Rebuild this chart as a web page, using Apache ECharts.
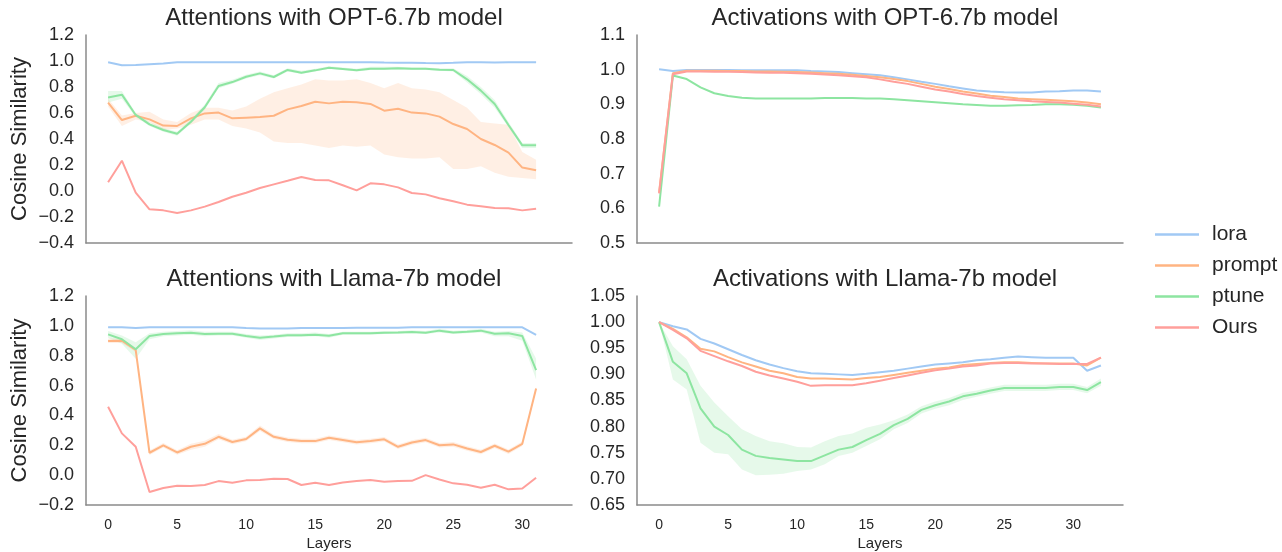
<!DOCTYPE html>
<html>
<head>
<meta charset="utf-8">
<script src="https://cdn.jsdelivr.net/npm/echarts@6/dist/echarts.min.js"></script>
<style>
  html, body { margin: 0; padding: 0; background: #fff; }
  #chart { width: 1282px; height: 552px; }
</style>
</head>
<body>
<div id="chart"></div>
<script>
// layer indices
const attnLayers = [0,1,2,3,4,5,6,7,8,9,10,11,12,13,14,15,16,17,18,19,20,21,22,23,24,25,26,27,28,29,30,31];
const actLayers = [0,1,2,3,4,5,6,7,8,9,10,11,12,13,14,15,16,17,18,19,20,21,22,23,24,25,26,27,28,29,30,31,32];
const xTickLabels = [0, 5, 10, 15, 20, 25, 30];

// Attentions with OPT-6.7b model
const attnOptLora = [0.99,0.967,0.97,0.975,0.98,0.99,0.99,0.99,0.99,0.99,0.99,0.99,0.99,0.99,0.99,0.99,0.99,0.99,0.99,0.99,0.988,0.987,0.986,0.984,0.983,0.986,0.99,0.99,0.988,0.99,0.99,0.99];
const attnOptPrompt = [0.679,0.546,0.579,0.551,0.503,0.5,0.559,0.597,0.603,0.559,0.564,0.569,0.579,0.628,0.654,0.687,0.674,0.687,0.682,0.67,0.618,0.633,0.603,0.597,0.572,0.515,0.477,0.4,0.354,0.295,0.18,0.159];
const attnOptPromptLo = [0.65,0.50,0.55,0.53,0.47,0.48,0.51,0.55,0.55,0.50,0.48,0.45,0.38,0.37,0.37,0.35,0.33,0.35,0.34,0.35,0.28,0.26,0.25,0.25,0.26,0.17,0.17,0.19,0.14,0.11,0.10,0.09];
const attnOptPromptHi = [0.71,0.58,0.60,0.61,0.55,0.53,0.60,0.64,0.64,0.62,0.65,0.71,0.76,0.79,0.82,0.86,0.85,0.85,0.86,0.83,0.79,0.83,0.79,0.78,0.76,0.70,0.64,0.53,0.52,0.51,0.30,0.24];
const attnOptPtune = [0.72,0.741,0.585,0.513,0.469,0.441,0.533,0.644,0.808,0.838,0.879,0.905,0.877,0.931,0.91,0.928,0.948,0.938,0.928,0.941,0.941,0.944,0.941,0.941,0.933,0.931,0.859,0.772,0.669,0.508,0.351,0.351];
const attnOptPtuneLo = [0.68,0.71,0.57,0.50,0.455,0.425,0.52,0.625,0.79,0.825,0.865,0.89,0.865,0.92,0.90,0.92,0.94,0.93,0.92,0.93,0.93,0.935,0.93,0.93,0.925,0.92,0.835,0.745,0.64,0.49,0.33,0.33];
const attnOptPtuneHi = [0.77,0.77,0.60,0.53,0.485,0.455,0.55,0.665,0.83,0.855,0.895,0.92,0.89,0.945,0.925,0.94,0.96,0.95,0.94,0.955,0.955,0.955,0.95,0.95,0.945,0.945,0.885,0.80,0.70,0.53,0.37,0.37];
const attnOptOurs = [0.067,0.233,-0.013,-0.141,-0.149,-0.169,-0.149,-0.12,-0.085,-0.044,-0.013,0.023,0.051,0.079,0.108,0.085,0.082,0.044,0.005,0.059,0.051,0.028,-0.015,-0.026,-0.056,-0.079,-0.105,-0.118,-0.131,-0.133,-0.149,-0.136];

// Activations with OPT-6.7b model
const actOptLora = [1.001,0.996,0.999,0.999,0.999,0.999,0.998,0.998,0.998,0.998,0.998,0.996,0.995,0.993,0.99,0.987,0.984,0.978,0.972,0.965,0.959,0.952,0.946,0.94,0.937,0.935,0.934,0.934,0.937,0.938,0.94,0.94,0.937];
const actOptPrompt = [0.645,0.99,0.997,0.997,0.997,0.996,0.996,0.995,0.995,0.994,0.993,0.992,0.99,0.988,0.985,0.982,0.978,0.973,0.967,0.959,0.951,0.944,0.937,0.931,0.925,0.921,0.917,0.915,0.913,0.911,0.909,0.905,0.9];
const actOptPtune = [0.605,0.983,0.973,0.949,0.932,0.924,0.919,0.917,0.917,0.917,0.917,0.917,0.918,0.918,0.918,0.917,0.917,0.915,0.912,0.909,0.906,0.903,0.9,0.898,0.896,0.896,0.897,0.898,0.9,0.9,0.899,0.896,0.891];
const actOptOurs = [0.643,0.987,0.995,0.995,0.994,0.994,0.993,0.992,0.991,0.991,0.99,0.988,0.986,0.984,0.981,0.978,0.972,0.965,0.959,0.951,0.943,0.937,0.93,0.924,0.919,0.915,0.912,0.909,0.907,0.905,0.902,0.899,0.894];

// Attentions with Llama-7b model
const attnLlamaLora = [0.99,0.99,0.985,0.99,0.99,0.99,0.99,0.99,0.99,0.99,0.985,0.983,0.983,0.983,0.985,0.985,0.985,0.985,0.987,0.987,0.987,0.988,0.99,0.99,0.99,0.99,0.99,0.99,0.99,0.99,0.99,0.94];
const attnLlamaPrompt = [0.898,0.9,0.838,0.15,0.2,0.152,0.19,0.21,0.257,0.222,0.242,0.313,0.257,0.237,0.228,0.228,0.25,0.235,0.22,0.228,0.24,0.19,0.219,0.235,0.2,0.206,0.179,0.155,0.197,0.157,0.21,0.581];
const attnLlamaPromptLo = [0.885,0.885,0.825,0.135,0.185,0.137,0.17,0.19,0.24,0.207,0.227,0.295,0.242,0.222,0.213,0.213,0.235,0.22,0.205,0.213,0.225,0.175,0.204,0.22,0.185,0.19,0.164,0.14,0.182,0.142,0.195,0.57];
const attnLlamaPromptHi = [0.915,0.915,0.852,0.165,0.215,0.167,0.21,0.23,0.275,0.237,0.257,0.333,0.272,0.252,0.243,0.243,0.265,0.25,0.235,0.243,0.255,0.205,0.234,0.25,0.215,0.222,0.194,0.17,0.212,0.172,0.225,0.592];
const attnLlamaPtune = [0.943,0.91,0.843,0.932,0.945,0.95,0.954,0.945,0.947,0.947,0.932,0.92,0.928,0.937,0.937,0.94,0.934,0.95,0.95,0.95,0.954,0.956,0.959,0.954,0.968,0.956,0.961,0.968,0.947,0.95,0.932,0.704];
const attnLlamaPtuneLo = [0.92,0.88,0.78,0.91,0.93,0.935,0.94,0.93,0.935,0.935,0.92,0.905,0.915,0.925,0.925,0.93,0.92,0.94,0.94,0.94,0.945,0.945,0.95,0.945,0.955,0.945,0.95,0.955,0.93,0.93,0.90,0.64];
const attnLlamaPtuneHi = [0.965,0.935,0.89,0.95,0.96,0.965,0.97,0.96,0.96,0.96,0.945,0.935,0.94,0.95,0.95,0.955,0.945,0.96,0.96,0.96,0.965,0.965,0.97,0.965,0.98,0.968,0.972,0.98,0.96,0.965,0.955,0.78];
const attnLlamaOurs = [0.458,0.28,0.19,-0.113,-0.086,-0.071,-0.073,-0.066,-0.04,-0.051,-0.035,-0.033,-0.024,-0.026,-0.066,-0.051,-0.066,-0.049,-0.04,-0.033,-0.044,-0.04,-0.038,0.0,-0.029,-0.055,-0.064,-0.084,-0.064,-0.095,-0.089,-0.017];

// Activations with Llama-7b model
const actLlamaLora = [1.0,0.992,0.986,0.968,0.959,0.948,0.937,0.927,0.919,0.912,0.906,0.902,0.901,0.9,0.899,0.901,0.904,0.907,0.911,0.915,0.919,0.921,0.923,0.927,0.929,0.932,0.934,0.933,0.932,0.932,0.932,0.907,0.917];
const actLlamaPrompt = [1.0,0.987,0.971,0.949,0.944,0.933,0.923,0.915,0.907,0.902,0.895,0.892,0.892,0.891,0.89,0.893,0.895,0.899,0.903,0.907,0.911,0.913,0.918,0.92,0.922,0.923,0.923,0.922,0.921,0.921,0.921,0.917,0.932];
const actLlamaPtune = [1.0,0.924,0.902,0.835,0.8,0.784,0.756,0.744,0.74,0.737,0.734,0.734,0.745,0.756,0.761,0.774,0.786,0.803,0.815,0.832,0.841,0.848,0.858,0.863,0.869,0.874,0.874,0.874,0.874,0.876,0.876,0.87,0.885];
const actLlamaPtuneLo = [1.0,0.89,0.871,0.769,0.75,0.747,0.718,0.707,0.708,0.71,0.715,0.718,0.728,0.744,0.75,0.763,0.776,0.795,0.807,0.825,0.834,0.841,0.851,0.857,0.863,0.868,0.868,0.868,0.868,0.87,0.87,0.864,0.878];
const actLlamaPtuneHi = [1.0,0.954,0.929,0.878,0.846,0.82,0.795,0.782,0.772,0.768,0.761,0.76,0.772,0.782,0.787,0.798,0.804,0.812,0.823,0.839,0.848,0.855,0.865,0.869,0.875,0.88,0.88,0.88,0.88,0.882,0.882,0.876,0.892];
const actLlamaOurs = [1.0,0.985,0.969,0.945,0.935,0.925,0.916,0.905,0.898,0.892,0.886,0.878,0.879,0.879,0.879,0.883,0.888,0.893,0.898,0.903,0.908,0.911,0.915,0.917,0.921,0.922,0.922,0.921,0.921,0.92,0.92,0.92,0.932];

const methods = ["lora", "prompt", "ptune", "Ours"];
const colors = { lora: "#a1c9f4", prompt: "#ffb482", ptune: "#8de5a1", Ours: "#ff9f9b" };

const FONT = "'Liberation Sans', Arial, sans-serif";
const TEXT = "#262626";
const AXIS = "#8a8a8a";

const panels = [
  { title: "Attentions with OPT-6.7b model", grid: { left: 86, top: 35, width: 486, height: 208 },
    y: { min: -0.4, max: 1.2, interval: 0.2, digits: 1 }, ylabel: true, xlabels: false, layers: attnLayers,
    lines: { lora: attnOptLora, prompt: attnOptPrompt, ptune: attnOptPtune, Ours: attnOptOurs },
    bands: { prompt: [attnOptPromptLo, attnOptPromptHi], ptune: [attnOptPtuneLo, attnOptPtuneHi] } },
  { title: "Activations with OPT-6.7b model", grid: { left: 637, top: 35, width: 486, height: 208 },
    y: { min: 0.5, max: 1.1, interval: 0.1, digits: 1 }, ylabel: false, xlabels: false, layers: actLayers,
    lines: { lora: actOptLora, prompt: actOptPrompt, ptune: actOptPtune, Ours: actOptOurs },
    bands: {} },
  { title: "Attentions with Llama-7b model", grid: { left: 86, top: 296, width: 486, height: 209 },
    y: { min: -0.2, max: 1.2, interval: 0.2, digits: 1 }, ylabel: true, xlabels: true, layers: attnLayers,
    lines: { lora: attnLlamaLora, prompt: attnLlamaPrompt, ptune: attnLlamaPtune, Ours: attnLlamaOurs },
    bands: { prompt: [attnLlamaPromptLo, attnLlamaPromptHi], ptune: [attnLlamaPtuneLo, attnLlamaPtuneHi] } },
  { title: "Activations with Llama-7b model", grid: { left: 637, top: 296, width: 486, height: 209 },
    y: { min: 0.65, max: 1.05, interval: 0.05, digits: 2 }, ylabel: false, xlabels: true, layers: actLayers,
    lines: { lora: actLlamaLora, prompt: actLlamaPrompt, ptune: actLlamaPtune, Ours: actLlamaOurs },
    bands: { ptune: [actLlamaPtuneLo, actLlamaPtuneHi] } },
];

// filled spread between lo and hi, one polygon through the axis scales
function bandSeries(gridIdx, layers, lo, hi, color) {
  return {
    type: "custom", xAxisIndex: gridIdx, yAxisIndex: gridIdx, silent: true, z: 1,
    data: layers.map((x, k) => [x, lo[k], hi[k]]),
    encode: { x: 0, y: [1, 2] },
    renderItem: (params, api) => {
      if (params.dataIndex !== 0) return;
      const upper = layers.map((x, k) => api.coord([x, hi[k]]));
      const lower = layers.map((x, k) => api.coord([x, lo[k]])).reverse();
      return {
        type: "polygon",
        shape: { points: upper.concat(lower) },
        style: { fill: color, opacity: 0.22 },
      };
    },
  };
}

const chart = echarts.init(document.getElementById("chart"), null, { renderer: "canvas" });

const grids = [], xAxes = [], yAxes = [], titles = [], series = [];

panels.forEach((p, i) => {
  grids.push(Object.assign({ containLabel: false }, p.grid));
  titles.push({
    text: p.title,
    left: p.grid.left + p.grid.width / 2,
    top: p.grid.top - 34,
    textAlign: "center",
    textStyle: { fontFamily: FONT, fontSize: 24, fontWeight: "normal", color: TEXT },
  });
  xAxes.push({
    type: "value", gridIndex: i, min: -1.6, max: 33.6,
    axisLine: { show: true, onZero: false, lineStyle: { color: AXIS, width: 1.5 } },
    axisTick: { show: false },
    splitLine: { show: false },
    axisLabel: p.xlabels
      ? { show: true, customValues: xTickLabels, fontFamily: FONT, fontSize: 14, color: TEXT, margin: 13 }
      : { show: false },
    name: p.xlabels ? "Layers" : "",
    nameLocation: "middle",
    nameGap: 31,
    nameTextStyle: { fontFamily: FONT, fontSize: 15, color: TEXT },
  });
  yAxes.push({
    type: "value", gridIndex: i, min: p.y.min, max: p.y.max, interval: p.y.interval,
    axisLine: { show: true, onZero: false, lineStyle: { color: AXIS, width: 1.5 } },
    axisTick: { show: false },
    splitLine: { show: false },
    axisLabel: {
      fontFamily: FONT, fontSize: 18, color: TEXT, margin: 12,
      formatter: (v) => v.toFixed(p.y.digits).replace("-", "\u2212"),
    },
    name: p.ylabel ? "Cosine Similarity" : "",
    nameLocation: "middle",
    nameGap: 55,
    nameTextStyle: { fontFamily: FONT, fontSize: 22, color: TEXT },
  });

  Object.keys(p.bands).forEach((m) => {
    const [lo, hi] = p.bands[m];
    series.push(bandSeries(i, p.layers, lo, hi, colors[m]));
  });

  methods.forEach((m, k) => {
    series.push({
      name: m, type: "line", xAxisIndex: i, yAxisIndex: i,
      symbol: "none", z: 2 + k,
      color: colors[m],
      lineStyle: { color: colors[m], width: 2 },
      data: p.layers.map((x, j) => [x, p.lines[m][j]]),
    });
  });
});

chart.setOption({
  animation: false,
  backgroundColor: "#ffffff",
  title: titles,
  grid: grids,
  xAxis: xAxes,
  yAxis: yAxes,
  legend: {
    data: methods,
    orient: "vertical",
    left: 1150,
    top: 219,
    itemWidth: 44,
    itemHeight: 14,
    itemGap: 10,
    icon: "path://M0,6 L44,6 L44,8.5 L0,8.5 Z",
    textStyle: { fontFamily: FONT, fontSize: 21, color: TEXT, lineHeight: 21, padding: [0, 0, 0, 8] },
  },
  series: series,
});
</script>
</body>
</html>
